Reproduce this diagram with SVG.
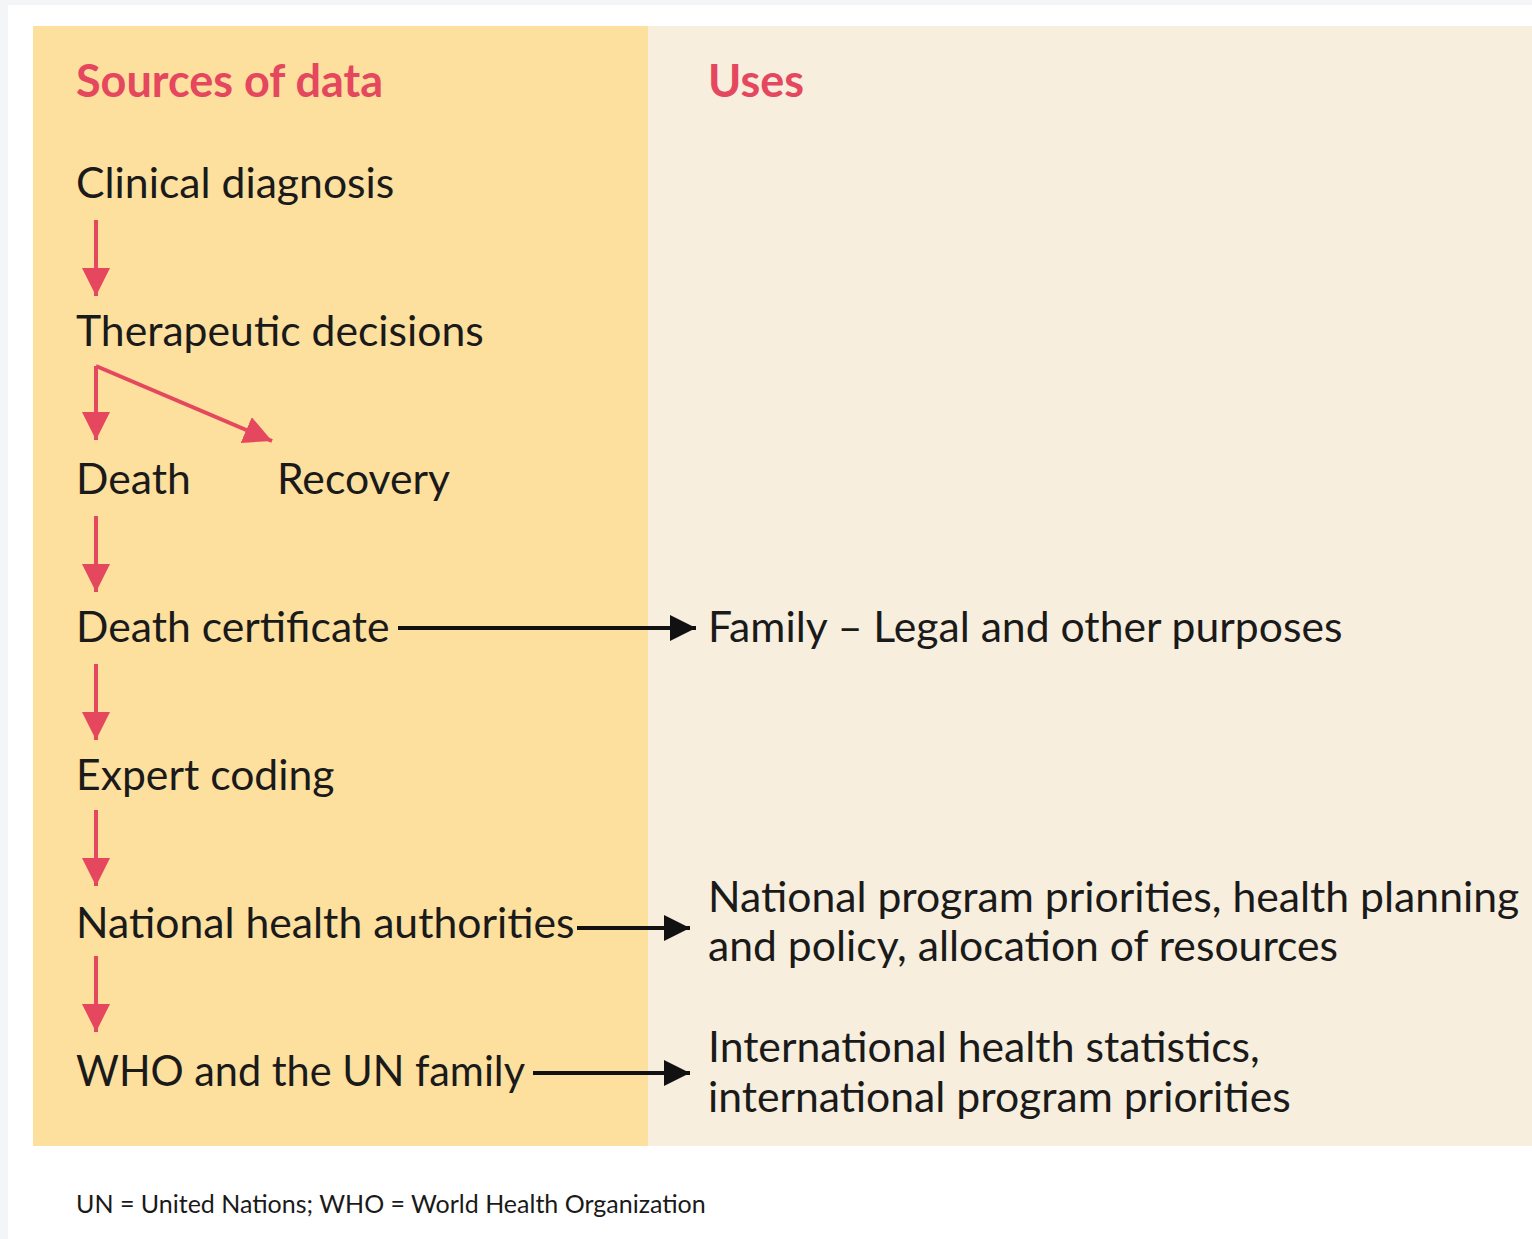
<svg xmlns="http://www.w3.org/2000/svg" width="1532" height="1239" viewBox="0 0 1532 1239">
<style>
.t{font-family:Lato,"Noto Sans",sans-serif;font-size:42.7px;fill:#1a1a1a}
.h{font-family:Lato,"Noto Sans",sans-serif;font-size:45px;font-weight:bold;fill:#e4475e}
.f{font-family:Lato,"Noto Sans",sans-serif;font-size:25px;fill:#1a1a1a}
.r{stroke:#e4475e;stroke-width:4;fill:none}
.b{stroke:#111;stroke-width:4;fill:none}
</style>
<defs>
<marker id="ra" viewBox="0 0 10 10" refX="10" refY="5" markerWidth="7" markerHeight="7" markerUnits="strokeWidth" orient="auto"><path d="M0,0 L10,5 L0,10 z" fill="#e4475e"/></marker>
<marker id="ba" viewBox="0 0 10 10" refX="10" refY="5" markerWidth="6.5" markerHeight="6.5" markerUnits="strokeWidth" orient="auto"><path d="M0,0 L10,5 L0,10 z" fill="#111"/></marker>
</defs>
<rect width="1532" height="1239" fill="#f4f5f7"/>
<rect x="8" y="5" width="1524" height="1234" fill="#ffffff"/>
<rect x="33" y="26" width="615" height="1120" fill="#fddf9e"/>
<rect x="648" y="26" width="884" height="1120" fill="#f7eedd"/>
<text class="h" x="76" y="97">Sources of data</text>
<text class="h" x="708" y="97">Uses</text>
<g id="n-clinical"><text class="t" x="76" y="198">Clinical diagnosis</text></g>
<g id="n-therapeutic"><text class="t" x="76" y="346">Therapeutic decisions</text></g>
<g id="n-death"><text class="t" x="76" y="494">Death</text></g>
<g id="n-recovery"><text class="t" x="277" y="494">Recovery</text></g>
<g id="n-certificate"><text class="t" x="76" y="642">Death certificate</text></g>
<g id="n-family"><text class="t" x="708" y="642">Family – Legal and other purposes</text></g>
<g id="n-coding"><text class="t" x="76" y="790">Expert coding</text></g>
<g id="n-national"><text class="t" x="76" y="938">National health authorities</text></g>
<g id="n-national-use"><text class="t" x="708" y="912">National program priorities, health planning</text><text class="t" x="708" y="961">and policy, allocation of resources</text></g>
<g id="n-who"><text class="t" x="76" y="1086" textLength="449" lengthAdjust="spacingAndGlyphs">WHO and the UN family</text></g>
<g id="n-who-use"><text class="t" x="708" y="1062">International health statistics,</text><text class="t" x="708" y="1112">international program priorities</text></g>
<g id="connectors">
<line class="r" x1="96" y1="220" x2="96" y2="296" marker-end="url(#ra)"/>
<line class="r" x1="96" y1="366" x2="96" y2="440" marker-end="url(#ra)"/>
<line class="r" x1="96" y1="366" x2="272" y2="441" marker-end="url(#ra)"/>
<line class="r" x1="96" y1="516" x2="96" y2="592" marker-end="url(#ra)"/>
<line class="r" x1="96" y1="664" x2="96" y2="740" marker-end="url(#ra)"/>
<line class="r" x1="96" y1="810" x2="96" y2="886" marker-end="url(#ra)"/>
<line class="r" x1="96" y1="956" x2="96" y2="1032" marker-end="url(#ra)"/>
<line class="b" x1="398" y1="628" x2="696" y2="628" marker-end="url(#ba)"/>
<line class="b" x1="577" y1="928" x2="690" y2="928" marker-end="url(#ba)"/>
<line class="b" x1="533" y1="1073" x2="690" y2="1073" marker-end="url(#ba)"/>
</g>
<text class="f" x="76" y="1213">UN = United Nations; WHO = World Health Organization</text>
</svg>
